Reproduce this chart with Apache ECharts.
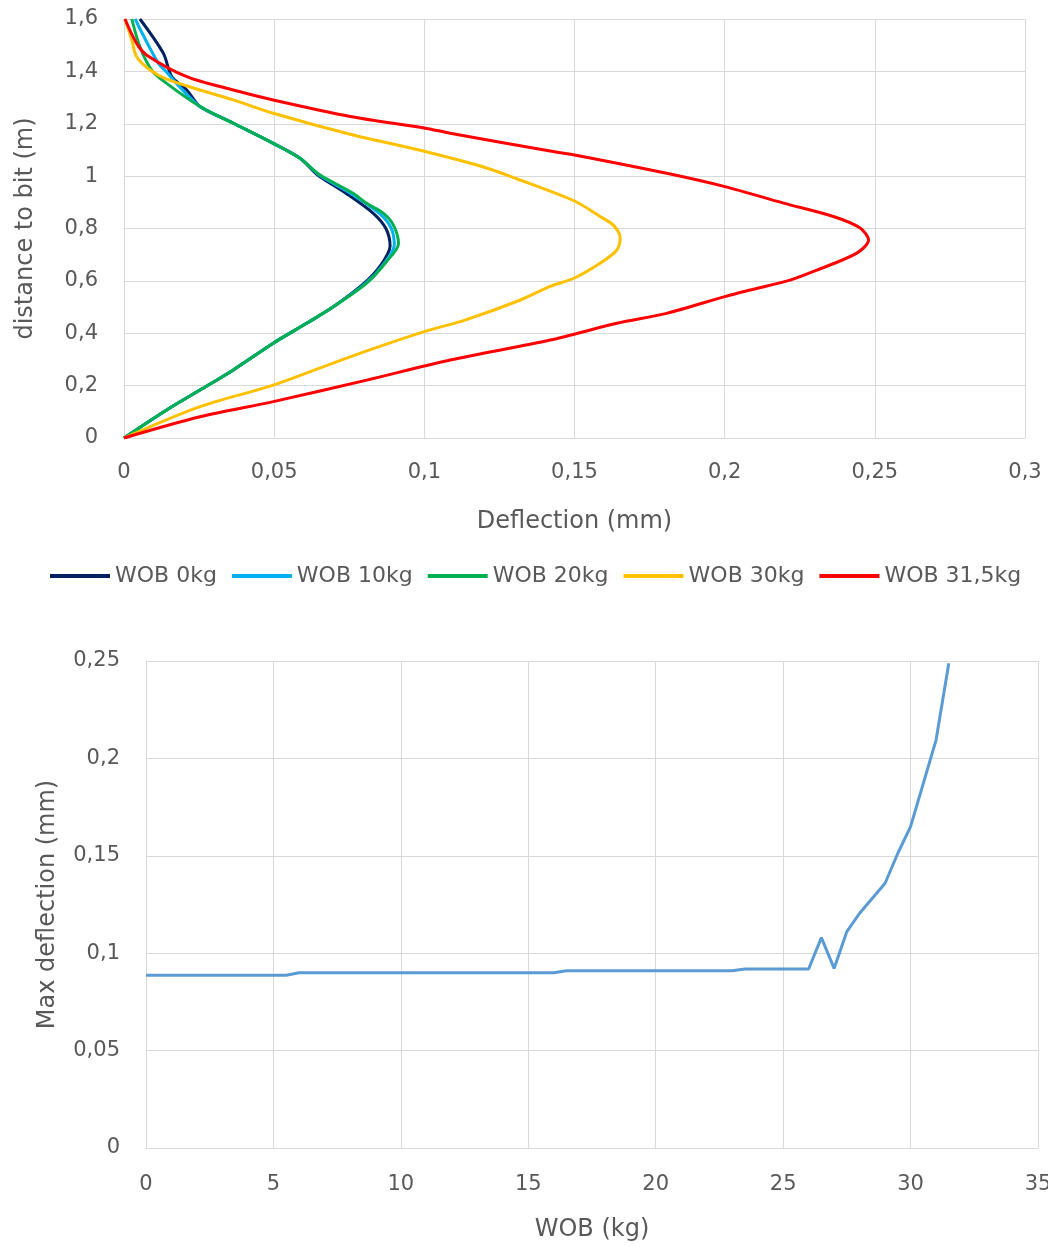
<!DOCTYPE html>
<html>
<head>
<meta charset="utf-8">
<script src="https://cdn.jsdelivr.net/npm/echarts@6/dist/echarts.min.js"></script>
<style>
html,body{margin:0;padding:0;background:#fff;overflow:hidden;}
#chart{width:1048px;height:1247px;}
</style>
</head>
<body>
<div id="chart"></div>
<script>
// ---- Top chart data: [deflection (mm), distance to bit (m)] ----
const seriesNames = ['WOB 0kg', 'WOB 10kg', 'WOB 20kg', 'WOB 30kg', 'WOB 31,5kg'];
const seriesColors = ['#002060', '#00B0F0', '#00B050', '#FFC000', '#FF0000'];

const wob0kg = [[0,0],[0.0142,0.107],[0.0253,0.183],[0.0364,0.260],[0.0497,0.362],[0.0608,0.438],[0.0697,0.501],
  [0.0800,0.591],[0.0855,0.660],[0.0886,0.733],[0.0872,0.800],[0.0830,0.858],[0.0740,0.934],[0.0645,1.004],
  [0.0586,1.068],[0.0497,1.125],[0.0364,1.202],[0.0253,1.266],[0.0209,1.329],[0.0159,1.380],[0.0131,1.469],[0.0053,1.600]];
const wob10kg = [[0,0],[0.0142,0.107],[0.0253,0.183],[0.0364,0.260],[0.0497,0.362],[0.0608,0.438],[0.0697,0.501],
  [0.0805,0.591],[0.0865,0.665],[0.0900,0.738],[0.0888,0.805],[0.0850,0.858],[0.0755,0.934],[0.0650,1.004],
  [0.0586,1.068],[0.0497,1.125],[0.0364,1.202],[0.0253,1.266],[0.0190,1.335],[0.0140,1.400],[0.0114,1.431],[0.0037,1.600]];
const wob20kg = [[0,0],[0.0142,0.107],[0.0253,0.183],[0.0364,0.260],[0.0497,0.362],[0.0608,0.438],[0.0697,0.501],
  [0.0808,0.591],[0.0875,0.675],[0.0914,0.743],[0.0897,0.813],[0.0864,0.858],[0.0808,0.896],[0.0764,0.934],[0.0653,1.004],
  [0.0586,1.068],[0.0497,1.125],[0.0364,1.202],[0.0253,1.266],[0.0142,1.354],[0.0092,1.405],[0.0053,1.494],[0.0026,1.600]];
const wob30kg = [[0,0],[0.0253,0.120],[0.0497,0.202],[0.0753,0.310],[0.0999,0.406],[0.1135,0.450],[0.1320,0.527],
  [0.1419,0.579],[0.1500,0.611],[0.1585,0.667],[0.1641,0.718],[0.1652,0.766],[0.1629,0.813],[0.1585,0.846],
  [0.1500,0.905],[0.1308,0.990],[0.1197,1.035],[0.0999,1.095],[0.0753,1.160],[0.0497,1.240],
  [0.0364,1.291],[0.0253,1.329],[0.0142,1.370],[0.0087,1.405],[0.0042,1.456],[0.0026,1.520],[0.0003,1.600]];
const wob31_5kg = [[0,0],[0.0253,0.081],[0.0497,0.139],[0.0808,0.221],[0.1086,0.298],[0.1419,0.374],[0.1641,0.438],
  [0.1807,0.476],[0.2001,0.540],[0.2085,0.565],[0.2218,0.603],[0.2307,0.641],[0.2440,0.706],[0.2479,0.756],
  [0.2451,0.802],[0.2362,0.846],[0.2196,0.897],[0.2001,0.960],[0.1807,1.011],[0.1500,1.081],[0.1419,1.096],
  [0.1086,1.164],[0.0999,1.184],[0.0753,1.228],[0.0497,1.291],[0.0364,1.329],[0.0209,1.380],[0.0076,1.462],
  [0.0042,1.507],[0.0003,1.600]];

// ---- Bottom chart data ----
const wobKg = [0, 5.5, 6, 16, 16.5, 23, 23.5, 26, 26.5, 27, 27.5, 28, 29, 29.5, 30, 31, 31.5];
const maxDeflection = [0.0887, 0.0887, 0.0900, 0.0900, 0.0910, 0.0910, 0.0919, 0.0919, 0.1080, 0.0922,
  0.1111, 0.1205, 0.1359, 0.1513, 0.1650, 0.2094, 0.2488];

const topData = [wob0kg, wob10kg, wob20kg, wob30kg, wob31_5kg];

const FONT = 'DejaVu Sans';
const TXT = '#595959';
const GRID_C = '#D9D9D9';
const fmt = v => String(+v.toFixed(4)).replace('.', ',');

const labelStyle = {color: TXT, fontFamily: FONT, fontSize: 21, formatter: fmt};
const nameStyle = {color: TXT, fontFamily: FONT, fontSize: 24};

const chart = echarts.init(document.getElementById('chart'), null, {renderer: 'canvas'});

const series = topData.map((d, i) => ({
  name: seriesNames[i], type: 'line', xAxisIndex: 0, yAxisIndex: 0,
  data: d, showSymbol: false, symbol: 'none', smooth: 0.3,
  lineStyle: {color: seriesColors[i], width: 3}, itemStyle: {color: seriesColors[i]},
  z: 2 + i
}));
series.push({
  name: 'Max deflection', type: 'line', xAxisIndex: 1, yAxisIndex: 1,
  data: wobKg.map((w, i) => [w, maxDeflection[i]]), showSymbol: false, symbol: 'none',
  lineStyle: {color: '#5B9BD5', width: 3}, itemStyle: {color: '#5B9BD5'}
});

chart.setOption({
  animation: false,
  backgroundColor: '#fff',
  grid: [
    {left: 124, right: 23, top: 19, bottom: 809, containLabel: false, outerBoundsMode: 'none'},
    {left: 146, right: 10, top: 661, bottom: 99, containLabel: false, outerBoundsMode: 'none'}
  ],
  legend: {
    data: seriesNames, top: 560, left: 45,
    icon: 'rect', itemWidth: 60, itemHeight: 4, itemGap: 15,
    textStyle: {color: TXT, fontFamily: FONT, fontSize: 22}
  },
  xAxis: [
    {type: 'value', gridIndex: 0, min: 0, max: 0.3, interval: 0.05,
     name: 'Deflection (mm)', nameLocation: 'middle', nameGap: 72, nameTextStyle: nameStyle,
     axisLine: {show: true, lineStyle: {color: GRID_C}}, axisTick: {show: false},
     axisLabel: Object.assign({margin: 24}, labelStyle),
     splitLine: {show: true, lineStyle: {color: GRID_C, width: 1}}},
    {type: 'value', gridIndex: 1, min: 0, max: 35, interval: 5,
     name: 'WOB (kg)', nameLocation: 'middle', nameGap: 70, nameTextStyle: nameStyle,
     axisLine: {show: true, lineStyle: {color: GRID_C}}, axisTick: {show: false},
     axisLabel: Object.assign({margin: 26}, labelStyle),
     splitLine: {show: true, lineStyle: {color: GRID_C, width: 1}}}
  ],
  yAxis: [
    {type: 'value', gridIndex: 0, min: 0, max: 1.6, interval: 0.2,
     name: 'distance to bit (m)', nameLocation: 'middle', nameGap: 86, nameTextStyle: nameStyle,
     axisLine: {show: true, lineStyle: {color: GRID_C}}, axisTick: {show: false},
     axisLabel: Object.assign({margin: 26}, labelStyle),
     splitLine: {show: true, lineStyle: {color: GRID_C, width: 1}}},
    {type: 'value', gridIndex: 1, min: 0, max: 0.25, interval: 0.05,
     name: 'Max deflection (mm)', nameLocation: 'middle', nameGap: 86, nameTextStyle: nameStyle,
     axisLine: {show: true, lineStyle: {color: GRID_C}}, axisTick: {show: false},
     axisLabel: Object.assign({margin: 26}, labelStyle),
     splitLine: {show: true, lineStyle: {color: GRID_C, width: 1}}}
  ],
  series: series
});
</script>
</body>
</html>
